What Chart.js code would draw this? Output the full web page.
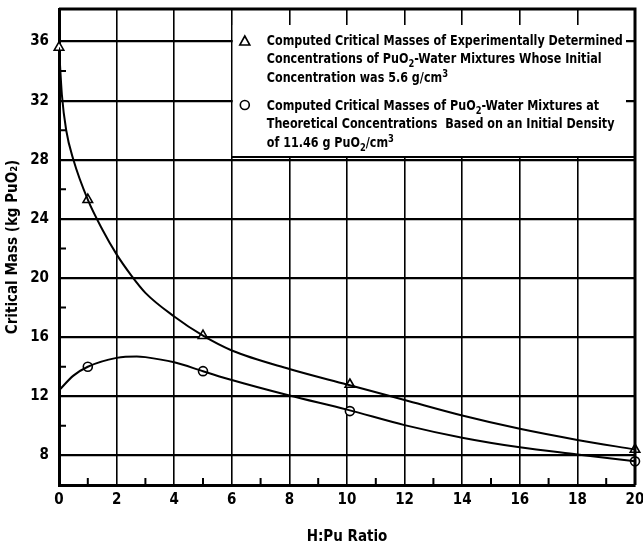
<!DOCTYPE html>
<html>
<head>
<meta charset="utf-8">
<script src="https://cdn.jsdelivr.net/npm/chart.js@4.4.1/dist/chart.umd.min.js"></script>
<style>
  html, body { margin: 0; padding: 0; background: #fff; }
  canvas { display: block; }
</style>
</head>
<body>
<canvas id="chart" width="643" height="546"></canvas>
<script>
var FONT = '"Liberation Sans Narrow", "DejaVu Sans Condensed", "Roboto", sans-serif';

// computed points (triangles = experimental concentrations, circles = theoretical)
var expX = [0, 1, 5, 10.1, 20];
var expY = [35.6, 25.3, 16.1, 12.8, 8.4];
var theoX = [1, 5, 10.1, 20];
var theoY = [14.0, 13.7, 11.0, 7.6];

// faired curves
var expCurveX = [0, 0.1, 0.25, 0.5, 1, 1.5, 2, 2.5, 3, 4, 5, 6, 8, 10, 12, 14, 16, 18, 20];
var expCurveY = [35.6, 32.4, 30.0, 28.0, 25.3, 23.3, 21.6, 20.2, 19.0, 17.4, 16.1, 15.1, 13.85, 12.8, 11.75, 10.7, 9.8, 9.05, 8.4];
var theoCurveX = [0, 0.5, 1, 2, 2.7, 3, 4, 5, 6, 8, 10, 12, 14, 16, 18, 20];
var theoCurveY = [12.4, 13.4, 14.0, 14.6, 14.7, 14.65, 14.3, 13.7, 13.1, 12.05, 11.1, 10.05, 9.2, 8.55, 8.07, 7.6];

// axis ticks (odd ones are the short inner marks)
var xTicks = [0, 1, 2, 3, 4, 5, 6, 7, 8, 9, 10, 11, 12, 13, 14, 15, 16, 17, 18, 19, 20];
var yTicks = [8, 10, 12, 14, 16, 18, 20, 22, 24, 26, 28, 30, 32, 34, 36];

var legendLines = [
  ['Computed Critical Masses of Experimentally Determined',
   'Concentrations of PuO_2-Water Mixtures Whose Initial',
   'Concentration was 5.6 g/cm^3'],
  ['Computed Critical Masses of PuO_2-Water Mixtures at',
   'Theoretical Concentrations  Based on an Initial Density',
   'of 11.46 g PuO_2/cm^3']
];

function pts(xs, ys) {
  return xs.map(function (x, i) { return { x: x, y: ys[i] }; });
}

function isMajorX(v) { return v % 2 === 0; }
function isMajorY(v) { return v % 4 === 0; }

// draws text with _x subscripts and ^x superscripts, squeezed horizontally by k
function drawRich(ctx, str, x, y, size, k) {
  var parts = str.split(/([_^].)/);
  ctx.save();
  ctx.translate(x, y);
  ctx.scale(k, 1);
  var cx = 0;
  for (var i = 0; i < parts.length; i++) {
    var p = parts[i];
    if (!p) continue;
    var t = p, s = size, dy = 0;
    if (p[0] === '_') { t = p[1]; s = size * 0.75; dy = size * 0.3; }
    else if (p[0] === '^') { t = p[1]; s = size * 0.75; dy = -size * 0.38; }
    ctx.font = 'bold ' + s + 'px ' + FONT;
    ctx.fillText(t, cx, dy);
    cx += ctx.measureText(t).width;
  }
  ctx.restore();
}

var framePlugin = {
  id: 'frame',
  afterDatasetsDraw: function (chart) {
    var ctx = chart.ctx;
    var area = chart.chartArea;
    var xs = chart.scales.x, ys = chart.scales.y;
    ctx.save();
    ctx.strokeStyle = '#000';

    // short inner tick marks
    ctx.lineWidth = 2;
    ctx.beginPath();
    xTicks.forEach(function (v) {
      if (isMajorX(v)) return;
      var px = xs.getPixelForValue(v);
      ctx.moveTo(px, area.bottom);
      ctx.lineTo(px, area.bottom - 7);
    });
    yTicks.forEach(function (v) {
      if (isMajorY(v)) return;
      var py = ys.getPixelForValue(v);
      ctx.moveTo(area.left, py);
      ctx.lineTo(area.left + 7, py);
    });
    ctx.stroke();

    // legend block
    var bx = xs.getPixelForValue(6);
    var top = 25, bottom = 157, right = area.right - 9;
    ctx.fillStyle = '#fff';
    ctx.fillRect(bx + 1, top, right - bx - 1, bottom - top);
    ctx.lineWidth = 2;
    ctx.beginPath();
    ctx.moveTo(bx, bottom);
    ctx.lineTo(area.right, bottom);
    ctx.stroke();

    var size = 14;
    ctx.font = 'bold ' + size + 'px ' + FONT;
    var w = ctx.measureText(legendLines[0][0]).width;
    var k = Math.min(1, 356 / w);
    ctx.fillStyle = '#000';
    ctx.textBaseline = 'alphabetic';
    var tx = bx + 35;
    var baselines = [[45, 63, 82], [110, 128, 147]];
    legendLines.forEach(function (block, b) {
      block.forEach(function (line, i) {
        drawRich(ctx, line, tx, baselines[b][i], size, k);
      });
    });

    // legend markers
    ctx.fillStyle = '#fff';
    ctx.lineWidth = 1.6;
    var mx = bx + 13;
    ctx.beginPath();
    ctx.moveTo(mx, 36);
    ctx.lineTo(mx + 5, 45);
    ctx.lineTo(mx - 5, 45);
    ctx.closePath();
    ctx.fill();
    ctx.stroke();
    ctx.beginPath();
    ctx.arc(mx, 105, 4.5, 0, Math.PI * 2);
    ctx.fill();
    ctx.stroke();

    // top and right frame
    ctx.lineWidth = 3;
    ctx.beginPath();
    ctx.moveTo(area.left, area.top);
    ctx.lineTo(area.right, area.top);
    ctx.lineTo(area.right, area.bottom);
    ctx.stroke();
    ctx.restore();
  }
};

var curveStyle = {
  showLine: true,
  borderColor: '#000',
  borderWidth: 2,
  pointRadius: 0,
  cubicInterpolationMode: 'monotone',
  fill: false
};
var markStyle = {
  showLine: false,
  backgroundColor: '#fff',
  borderColor: '#000',
  borderWidth: 1.6,
  clip: false
};

new Chart(document.getElementById('chart'), {
  type: 'scatter',
  data: {
    datasets: [
      Object.assign({ label: 'exp curve', data: pts(expCurveX, expCurveY) }, curveStyle),
      Object.assign({ label: 'theo curve', data: pts(theoCurveX, theoCurveY) }, curveStyle),
      Object.assign({ label: 'Experimental', data: pts(expX, expY), pointStyle: 'triangle', pointRadius: 5.5 }, markStyle),
      Object.assign({ label: 'Theoretical', data: pts(theoX, theoY), pointStyle: 'circle', pointRadius: 4.5 }, markStyle)
    ]
  },
  options: {
    responsive: false,
    animation: false,
    devicePixelRatio: 1,
    layout: { padding: { left: 4, top: 9, right: 0, bottom: 0 } },
    plugins: {
      legend: { display: false },
      tooltip: { enabled: false }
    },
    scales: {
      x: {
        type: 'linear',
        min: 0,
        max: 20,
        afterBuildTicks: function (scale) {
          scale.ticks = xTicks.map(function (v) { return { value: v }; });
        },
        afterFit: function (scale) { scale.paddingRight = 8; scale.paddingLeft = 0; },
        ticks: {
          autoSkip: false,
          maxRotation: 0,
          padding: 6,
          color: '#000',
          font: { family: FONT, size: 15, weight: 'bold' },
          callback: function (v) { return isMajorX(v) ? String(v) : ''; }
        },
        grid: {
          drawTicks: false,
          lineWidth: 1.6,
          color: function (c) { return c.tick && isMajorX(c.tick.value) ? '#000' : 'rgba(0,0,0,0)'; }
        },
        border: { display: true, color: '#000', width: 3 },
        title: {
          display: true,
          text: 'H:Pu Ratio',
          color: '#000',
          padding: { top: 13, bottom: 0 },
          font: { family: FONT, size: 15, weight: 'bold' }
        }
      },
      y: {
        type: 'linear',
        min: 6,
        max: 38.2,
        afterBuildTicks: function (scale) {
          scale.ticks = yTicks.map(function (v) { return { value: v }; });
        },
        afterFit: function (scale) { scale.width = 55; scale.paddingTop = 0; scale.paddingBottom = 0; },
        ticks: {
          autoSkip: false,
          padding: 10,
          color: '#000',
          font: { family: FONT, size: 15, weight: 'bold' },
          callback: function (v) { return isMajorY(v) ? String(v) : ''; }
        },
        grid: {
          drawTicks: false,
          lineWidth: 2.2,
          color: function (c) { return c.tick && isMajorY(c.tick.value) ? '#000' : 'rgba(0,0,0,0)'; }
        },
        border: { display: true, color: '#000', width: 3 },
        title: {
          display: true,
          text: 'Critical Mass (kg PuO\u2082)',
          color: '#000',
          padding: { top: 0, bottom: 6 },
          font: { family: FONT, size: 15, weight: 'bold' }
        }
      }
    }
  },
  plugins: [framePlugin]
});
</script>
</body>
</html>
